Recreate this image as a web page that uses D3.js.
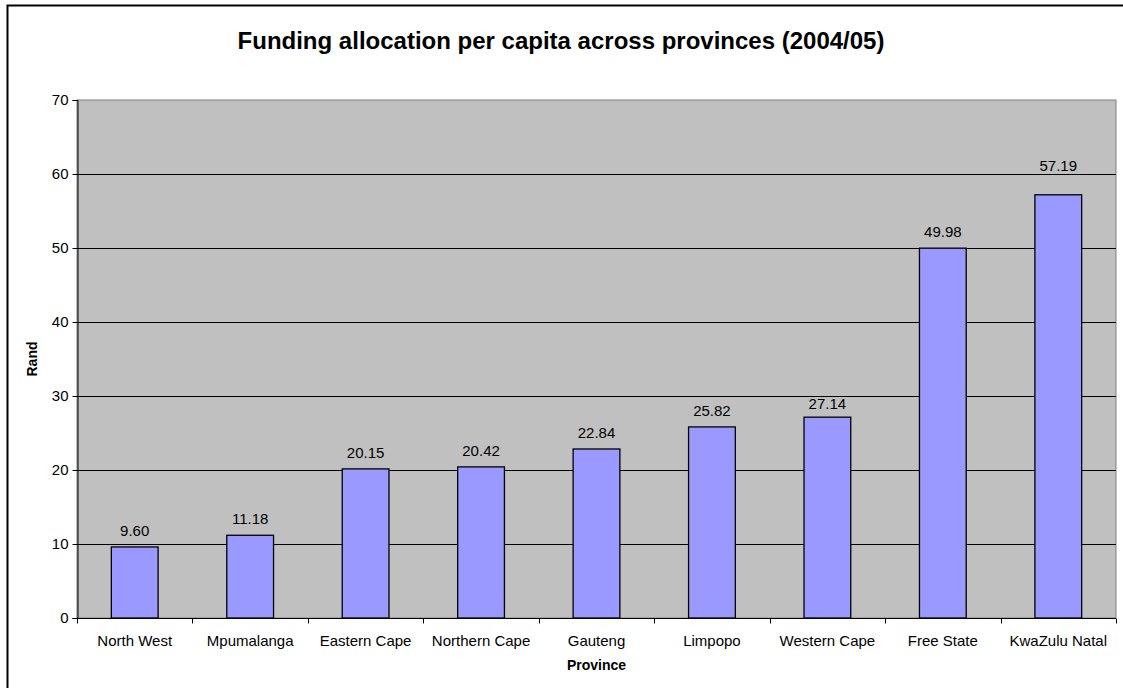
<!DOCTYPE html>
<html>
<head>
<meta charset="utf-8">
<script src="https://cdn.jsdelivr.net/npm/d3@7"></script>
<style>
  html, body { margin: 0; padding: 0; background: #fff; }
  svg { display: block; font-family: "Liberation Sans", Arial, sans-serif; }
</style>
</head>
<body>
<svg id="chart" width="1123" height="688"></svg>
<script>
// Per-capita funding by province, 2004/05 (Rand)
const provinces = ["North West", "Mpumalanga", "Eastern Cape", "Northern Cape", "Gauteng",
                   "Limpopo", "Western Cape", "Free State", "KwaZulu Natal"];
const randPerCapita = [9.60, 11.18, 20.15, 20.42, 22.84, 25.82, 27.14, 49.98, 57.19];
const yTicks = [0, 10, 20, 30, 40, 50, 60, 70];

const svg = d3.select("#chart");
const W = 1123, H = 688;
const plot = { left: 77, right: 1116, top: 100, bottom: 618 };

// Outer chart frame (right/bottom edges fall outside the canvas)
svg.append("rect")
  .attr("x", 7.5).attr("y", 5.5)
  .attr("width", W + 10).attr("height", H + 10)
  .attr("fill", "#fff").attr("stroke", "#000").attr("stroke-width", 2);

svg.append("text")
  .attr("x", 561).attr("y", 49)
  .attr("text-anchor", "middle")
  .attr("font-size", 24).attr("font-weight", "bold")
  .text("Funding allocation per capita across provinces (2004/05)");

const x = d3.scaleBand().domain(provinces).range([plot.left, plot.right]).paddingInner(0).paddingOuter(0);
const y = d3.scaleLinear().domain([0, 70]).range([plot.bottom, plot.top]);

// Plot area background
svg.append("rect")
  .attr("x", plot.left).attr("y", plot.top)
  .attr("width", plot.right - plot.left).attr("height", plot.bottom - plot.top)
  .attr("fill", "#c0c0c0").attr("stroke", "#808080").attr("stroke-width", 1);

// Horizontal gridlines
const gridVals = yTicks.filter(t => t > 0 && t < 70);
svg.append("g").selectAll("line")
  .data(gridVals)
  .join("line")
  .attr("x1", plot.left).attr("x2", plot.right)
  .attr("y1", d => Math.round(y(d)) + 0.5).attr("y2", d => Math.round(y(d)) + 0.5)
  .attr("stroke", "#000").attr("stroke-width", 1);

// Bars
const barW = x.bandwidth() * 0.405;
svg.append("g").selectAll("rect")
  .data(provinces)
  .join("rect")
  .attr("x", d => x(d) + (x.bandwidth() - barW) / 2)
  .attr("y", (d, i) => y(randPerCapita[i]))
  .attr("width", barW)
  .attr("height", (d, i) => plot.bottom - y(randPerCapita[i]))
  .attr("fill", "#9999ff").attr("stroke", "#000").attr("stroke-width", 1.3);

// Value label baseline: sits above the bar, nudged clear of any gridline it would cross
const capH = 11, gap = 11;
function labelBaseline(v) {
  const top = y(v);
  let base = top - gap;
  const hit = gridVals.map(y).find(g => g >= base - capH - 1 && g <= base + 1);
  if (hit !== undefined) {
    const below = hit + 2 + capH;
    base = (top - below >= 8) ? below : hit - 3;
  }
  return base;
}

svg.append("g").selectAll("text")
  .data(provinces)
  .join("text")
  .attr("x", d => x(d) + x.bandwidth() / 2)
  .attr("y", (d, i) => labelBaseline(randPerCapita[i]))
  .attr("text-anchor", "middle")
  .attr("font-size", 15)
  .text((d, i) => randPerCapita[i].toFixed(2));

// Y axis
const yAxis = svg.append("g")
  .attr("transform", `translate(${plot.left + 0.5},0)`)
  .call(d3.axisLeft(y).tickValues(yTicks).tickSize(5).tickPadding(4).tickFormat(d3.format("d")));
yAxis.select(".domain").attr("stroke", "#000");
yAxis.selectAll("text").attr("font-size", 15).attr("fill", "#000")
  .attr("font-family", "Liberation Sans, Arial, sans-serif");

// X axis with ticks at category boundaries
const xAxis = svg.append("g")
  .attr("transform", `translate(0,${plot.bottom + 0.5})`);
xAxis.append("line")
  .attr("x1", plot.left).attr("x2", plot.right)
  .attr("stroke", "#000");
xAxis.selectAll("line.tick")
  .data(provinces.concat([null]))
  .join("line").attr("class", "tick")
  .attr("x1", (d, i) => Math.round(plot.left + i * x.step()) + 0.5)
  .attr("x2", (d, i) => Math.round(plot.left + i * x.step()) + 0.5)
  .attr("y1", 0).attr("y2", 5)
  .attr("stroke", "#000");
xAxis.selectAll("text")
  .data(provinces)
  .join("text")
  .attr("x", d => x(d) + x.bandwidth() / 2)
  .attr("y", 27)
  .attr("text-anchor", "middle")
  .attr("font-size", 15)
  .text(d => d);

// Axis titles
svg.append("text")
  .attr("x", (plot.left + plot.right) / 2).attr("y", 670)
  .attr("text-anchor", "middle")
  .attr("font-size", 14).attr("font-weight", "bold")
  .text("Province");

svg.append("text")
  .attr("transform", `translate(37,${(plot.top + plot.bottom) / 2}) rotate(-90)`)
  .attr("text-anchor", "middle")
  .attr("font-size", 14).attr("font-weight", "bold")
  .text("Rand");
</script>
</body>
</html>
